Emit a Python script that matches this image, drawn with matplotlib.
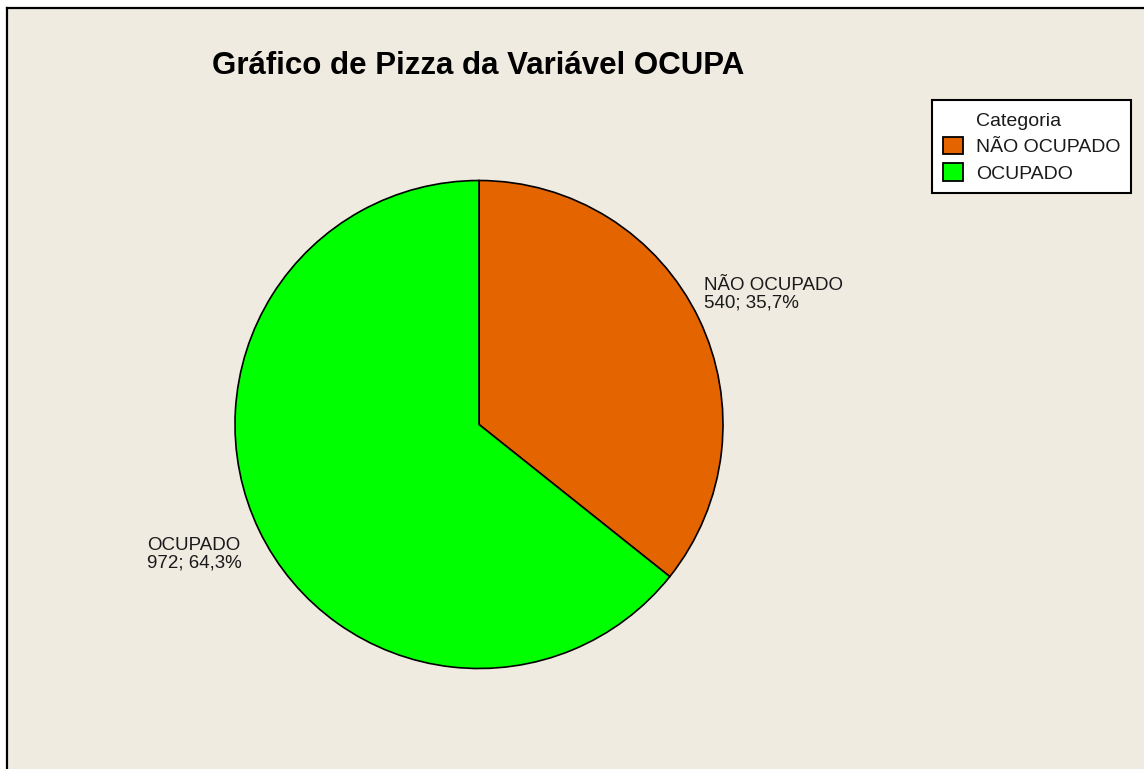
import numpy as np
import matplotlib.pyplot as plt
from matplotlib.patches import Rectangle, Patch
from matplotlib.lines import Line2D

categorias = ['NÃO OCUPADO', 'OCUPADO']
contagens = [540, 972]
percentuais = ['35,7%', '64,3%']
cores = ['#E46400', '#00FF00']

plt.rcParams['font.family'] = ['Liberation Sans', 'DejaVu Sans']

W, H = 1144, 769
fig = plt.figure(figsize=(W / 100, H / 100), dpi=100)
fig.patch.set_facecolor('white')

# fundo bege com borda superior e esquerda
fig.add_artist(Rectangle((7 / W, 0), 1, 1 - 8 / H, transform=fig.transFigure,
                         facecolor='#EFEBE0', edgecolor='none', zorder=0))
fig.add_artist(Line2D([7 / W, 7 / W], [0, 1 - 8 / H], transform=fig.transFigure,
                      color='black', lw=1.6))
fig.add_artist(Line2D([7 / W, 1], [1 - 8 / H, 1 - 8 / H], transform=fig.transFigure,
                      color='black', lw=1.6))

cx, cy, r = 479, 424.5, 244
ax = fig.add_axes([(cx - r) / W, (H - cy - r) / H, 2 * r / W, 2 * r / H])
ax.set_facecolor('none')

rotulos = [f'{c}\n{n}; {p}' for c, n, p in zip(categorias, contagens, percentuais)]
wedges, texts = ax.pie(contagens, colors=cores, startangle=90, counterclock=False,
                       labels=rotulos, labeldistance=1.3,
                       wedgeprops=dict(edgecolor='black', linewidth=1.2),
                       textprops=dict(fontsize=13.5, color='#1a1a1a', linespacing=1.05))
for w, t in zip(wedges, texts):
    ang = np.deg2rad((w.theta1 + w.theta2) / 2 - 1.5)
    t.set_position((1.3 * np.cos(ang) + 0.02, 1.3 * np.sin(ang)))
    t.set_ha('center')
    t.set_va('center')
    t.set_multialignment('left')
ax.set_xlim(-1, 1)
ax.set_ylim(-1, 1)
ax.axis('off')

fig.text(478.5 / W, 1 - 66 / H, 'Gráfico de Pizza da Variável OCUPA',
         ha='center', va='center', fontsize=22.5, fontweight='bold')

# legenda: titulo como linha sem marcador para alinhar com os rotulos
handles = [Patch(facecolor='none', edgecolor='none')]
handles += [Patch(facecolor=c, edgecolor='black', linewidth=1.3) for c in cores]
leg = fig.legend(handles, ['Categoria'] + categorias, loc='upper right',
                 bbox_to_anchor=(1131 / W, 1 - 100 / H), fontsize=14,
                 frameon=True, fancybox=False,
                 handlelength=1.05, handleheight=1.0, handletextpad=0.65,
                 borderpad=0.55, labelspacing=0.36, borderaxespad=0)
for t in leg.get_texts():
    t.set_color('#1a1a1a')
leg.get_frame().set_edgecolor('black')
leg.get_frame().set_linewidth(1.5)
leg.get_frame().set_facecolor('white')
leg.get_frame().set_alpha(1)

fig.savefig('out.png', dpi=100)
